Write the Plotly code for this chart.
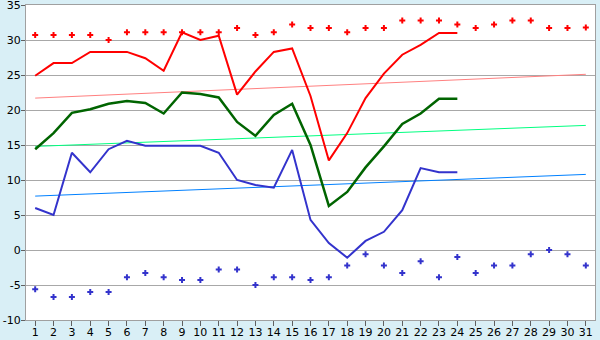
import plotly.graph_objects as go

days = [str(d) for d in range(1, 32)]

record_high = [30.7, 30.7, 30.7, 30.7, 30.0, 31.1, 31.1, 31.1, 31.1, 31.1,
               31.1, 31.7, 30.7, 31.1, 32.2, 31.7, 31.7, 31.1, 31.7, 31.7,
               32.8, 32.8, 32.8, 32.2, 31.7, 32.2, 32.8, 32.8, 31.7, 31.7, 31.8]
record_low = [-5.6, -6.7, -6.7, -6.0, -6.0, -3.9, -3.3, -3.9, -4.3, -4.3,
              -2.8, -2.8, -5.0, -3.9, -3.9, -4.3, -3.9, -2.2, -0.6, -2.2,
              -3.3, -1.6, -3.9, -1.0, -3.3, -2.2, -2.2, -0.6, 0.0, -0.6, -2.2]
daily_high = [24.9, 26.7, 26.7, 28.3, 28.3, 28.3, 27.4, 25.6, 31.1, 30.0,
              30.6, 22.2, 25.5, 28.3, 28.8, 22.0, 12.8, 16.7, 21.7, 25.2,
              27.9, 29.3, 31.0, 31.0] + [None] * 7
daily_mean = [14.4, 16.7, 19.6, 20.1, 20.9, 21.3, 21.0, 19.5, 22.5, 22.3,
              21.8, 18.3, 16.3, 19.3, 20.9, 15.0, 6.3, 8.3, 11.8, 14.8,
              18.0, 19.5, 21.6, 21.6] + [None] * 7
daily_low = [6.0, 5.0, 13.9, 11.1, 14.4, 15.6, 14.9, 14.9, 14.9, 14.9,
             13.9, 10.0, 9.3, 8.9, 14.3, 4.3, 1.0, -1.1, 1.3, 2.6,
             5.7, 11.7, 11.1, 11.1] + [None] * 7
normal_days = ["1", "31"]
normal_high = [21.7, 25.1]
normal_mean = [14.8, 17.8]
normal_low = [7.7, 10.8]
y_ticks = [-10, -5, 0, 5, 10, 15, 20, 25, 30, 35]
y_tick_labels = [str(v) for v in y_ticks]

fig = go.Figure()
fig.add_trace(go.Scatter(x=normal_days, y=normal_high, mode="lines",
                         line=dict(color="#FF8080", width=1)))
fig.add_trace(go.Scatter(x=normal_days, y=normal_mean, mode="lines",
                         line=dict(color="#00FF80", width=1)))
fig.add_trace(go.Scatter(x=normal_days, y=normal_low, mode="lines",
                         line=dict(color="#0080FF", width=1)))
fig.add_trace(go.Scatter(x=days, y=daily_high, mode="lines",
                         line=dict(color="#FF0000", width=2)))
fig.add_trace(go.Scatter(x=days, y=daily_mean, mode="lines",
                         line=dict(color="#006400", width=2.5)))
fig.add_trace(go.Scatter(x=days, y=daily_low, mode="lines",
                         line=dict(color="#3333CC", width=2)))
fig.add_trace(go.Scatter(x=days, y=record_high, mode="markers",
                         marker=dict(symbol="cross", size=5, color="#FF0000", line=dict(width=0))))
fig.add_trace(go.Scatter(x=days, y=record_low, mode="markers",
                         marker=dict(symbol="cross", size=5, color="#3333CC", line=dict(width=0))))

fig.update_layout(
    width=600, height=340,
    margin=dict(l=26, r=5, t=5, b=20),
    paper_bgcolor="#D9EFF6",
    plot_bgcolor="#FFFFFF",
    showlegend=False,
    font=dict(family="DejaVu Sans", size=11, color="#000000"),
)
fig.update_xaxes(type="category", categoryorder="array", categoryarray=days,
                 range=[-0.5, 30.5], showgrid=False, showline=True,
                 linecolor="#A0A0A0", linewidth=1, mirror=True,
                 ticks="outside", ticklen=5, tickcolor="#606060",
                 tickfont=dict(size=11), automargin=False,
                 ticklabelstandoff=-3,
                 ticklabeloverflow="allow", fixedrange=True)
fig.update_yaxes(range=[-10, 35], tickvals=y_ticks, ticktext=y_tick_labels,
                 showgrid=True,
                 gridcolor="#A8A8A8", gridwidth=1, showline=True,
                 linecolor="#A0A0A0", linewidth=1, mirror=True,
                 ticks="outside", ticklen=4, tickcolor="#606060",
                 zeroline=False, tickfont=dict(size=11), automargin=False,
                 ticklabelstandoff=-2,
                 ticklabeloverflow="allow", fixedrange=True)

fig.write_html("out.html")
